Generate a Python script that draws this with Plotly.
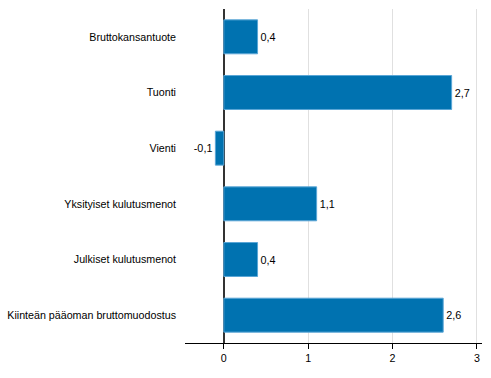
import plotly.graph_objects as go

categories = ["Bruttokansantuote", "Tuonti", "Vienti", "Yksityiset kulutusmenot",
              "Julkiset kulutusmenot", "Kiinteän pääoman bruttomuodostus"]
values = [0.4, 2.7, -0.1, 1.1, 0.4, 2.6]
tick_vals = [0, 1, 2, 3]

fig = go.Figure(go.Bar(
    x=values, y=categories, orientation="h",
    marker=dict(color="#0072b0", line=dict(color="#5aa6d6", width=1)),
    width=0.61,
    texttemplate="%{x:.1f}", textposition="outside",
    textfont=dict(family="Liberation Sans, Arial", size=10.8, color="#000"),
    cliponaxis=False,
))

fig.update_layout(
    width=491, height=378,
    margin=dict(l=185, r=9, t=9, b=35, autoexpand=False),
    plot_bgcolor="white", paper_bgcolor="white",
    separators=", ",
    font=dict(family="Liberation Sans, Arial", size=10.7, color="#000"),
    showlegend=False,
    bargap=0.39,
)
fig.update_xaxes(
    range=[-0.46, 3.06], tickvals=tick_vals,
    showgrid=True, gridcolor="#e0e0e0", gridwidth=1,
    zeroline=True, zerolinecolor="#333333", zerolinewidth=2,
    showline=True, linecolor="#000", linewidth=1,
    ticks="outside", ticklen=5, tickcolor="#000",
    automargin=False,
)
fig.update_yaxes(
    autorange="reversed", showgrid=False, zeroline=False, showline=False,
    ticks="", ticklabelstandoff=8, automargin=False,
)

fig.write_html("out.html")
